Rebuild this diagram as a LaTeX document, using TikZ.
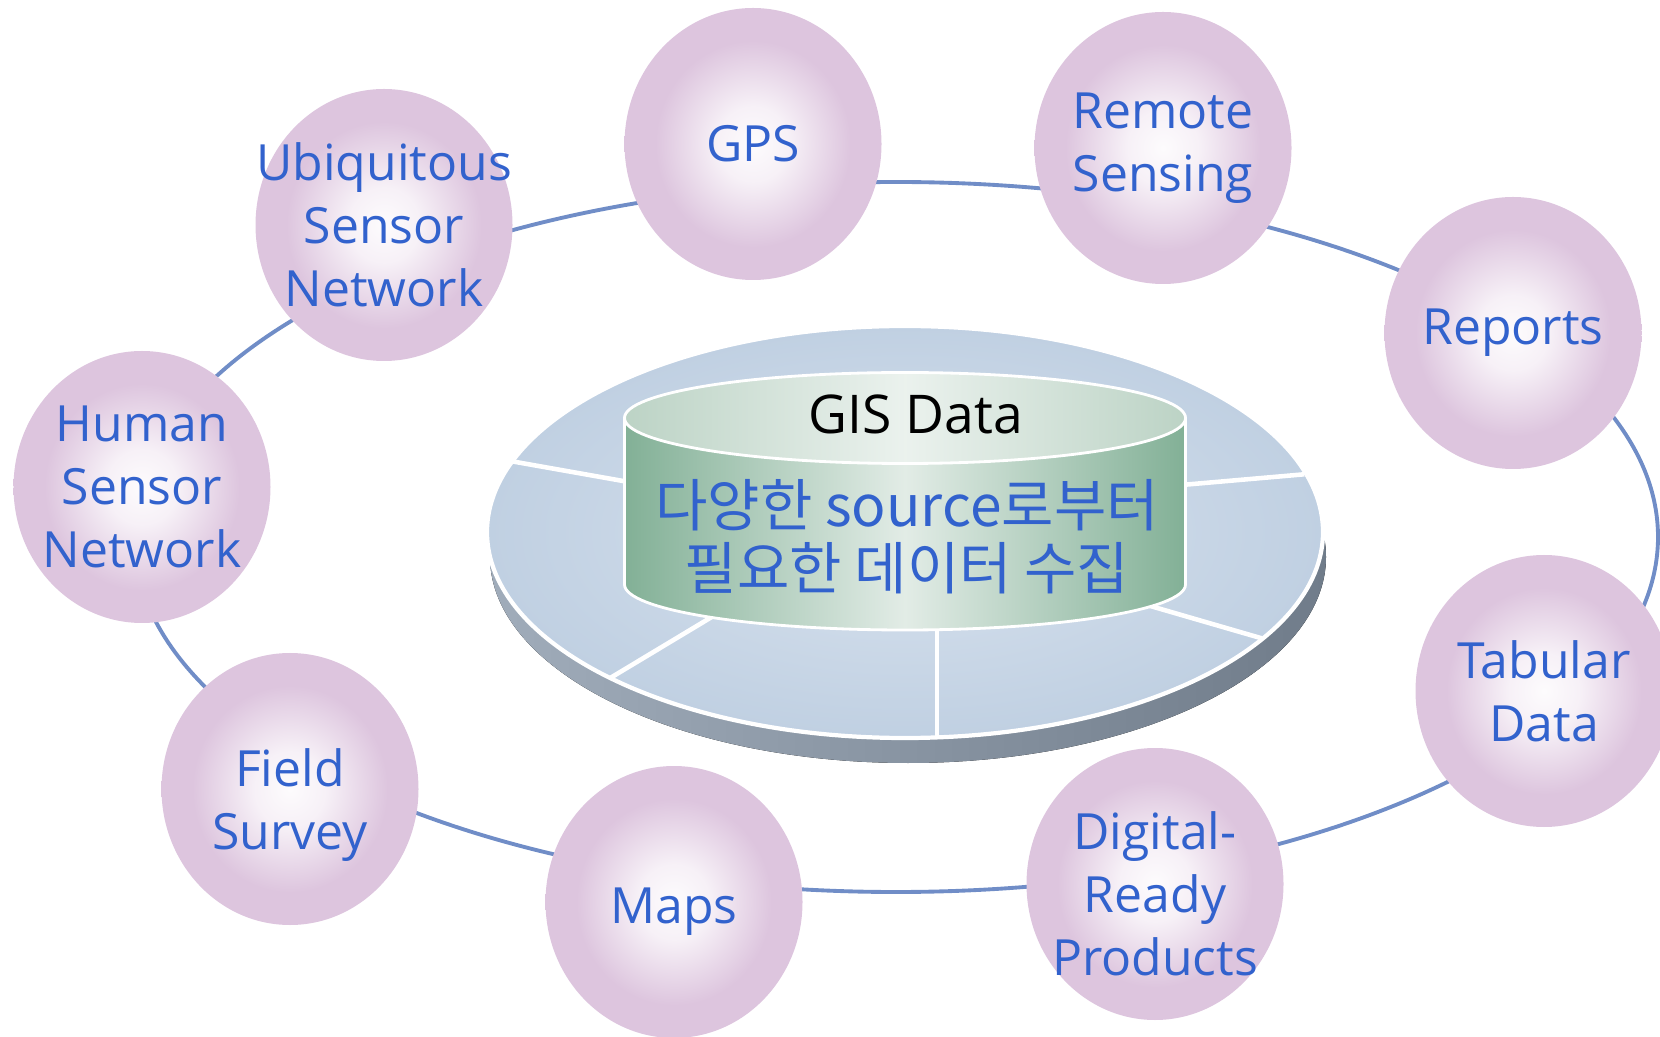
\documentclass[tikz,border=0pt]{standalone}
\usepackage{fontspec}
\setmainfont{Open Sans}
\newfontfamily\krfont{Noto Sans CJK KR}
\usetikzlibrary{shapes.geometric}
\definecolor{bubblepink}{RGB}{221,197,222}
\definecolor{labelblue}{RGB}{50,98,205}
\definecolor{ringblue}{RGB}{112,141,199}
\definecolor{platterblue}{RGB}{192,208,226}
\definecolor{platterlight}{RGB}{216,226,238}
\definecolor{rimgray}{RGB}{160,172,186}
\definecolor{rimdark}{RGB}{112,124,138}
\definecolor{drumgreen}{RGB}{130,176,150}
\definecolor{drumlight}{RGB}{226,236,230}
\definecolor{lidgreen}{RGB}{188,211,197}
\pgfdeclareradialshading{bubbleshade}{\pgfpoint{0bp}{0bp}}{color(0bp)=(bubblepink!6!white); color(7bp)=(bubblepink!25!white); color(19bp)=(bubblepink); color(50bp)=(bubblepink)}

\tikzset{
  source/.style={ellipse, minimum width=2.57cm, minimum height=2.72cm, inner sep=-0.6cm, shading=bubbleshade, text=labelblue, align=center, font=\fontsize{14.2}{18}\selectfont},
  tag/.style={text=labelblue, align=center, font=\fontsize{14.2}{18}\selectfont},
  sector/.style={white, line width=1.3pt},
}

\begin{document}
\begin{tikzpicture}
\useasboundingbox (0,0) rectangle (16.6,10.36);
% orbit behind the sources
\draw[ringblue, line width=1.1pt] (8.96,4.99) ellipse (7.62 and 3.55);

\node[source] (GPS) at (7.53,8.92) {GPS};
\node[source] (RS) at (11.63,8.88) {Remote\\Sensing};
\node[source] (REP) at (15.13,7.03) {Reports};
\node[source] (TAB) at (15.44,3.45) {Tabular\\Data};
\node[source] (DRP) at (11.55,1.52) {};
\node[tag] at ([yshift=-1mm]DRP.center) {Digital-\\Ready\\Products};
\node[source] (MAP) at (6.74,1.34) {};
\node[tag] at ([yshift=-1mm]MAP.center) {Maps};
\node[source] (FS) at (2.90,2.47) {};
\node[tag] at ([yshift=-1.6mm]FS.center) {Field\\Survey};
\node[source] (HSN) at (1.42,5.49) {Human\\Sensor\\Network};
\node[source] (USN) at (3.84,8.11) {Ubiquitous\\Sensor\\Network};

% platter
\fill[left color=rimgray, right color=rimdark] (9.08,4.79) ellipse (4.18 and 2.06);
\draw[white, line width=1.2pt, inner color=platterlight, outer color=platterblue] (9.05,5.04) ellipse (4.18 and 2.06);
\foreach \ax/\ay/\bx/\by in {5.135/5.744/6.4/5.52, 11.7/5.5/13.043/5.617, 7.3/4.3/6.109/3.584, 9.37/4.2/9.37/2.98, 11.4/4.33/12.62/3.976}
  \draw[sector] (\ax,\ay) -- (\bx,\by);

% drum
\draw[white, line width=0.8pt, left color=drumgreen, right color=drumgreen, middle color=drumlight] (6.245,6.18) -- (6.245,4.515) arc[start angle=180, end angle=360, x radius=2.805, y radius=0.455] -- (11.855,6.18) -- cycle;
\draw[white, line width=0.8pt, left color=lidgreen, right color=lidgreen, middle color=drumlight!70!white] (9.05,6.18) ellipse (2.805 and 0.455);

\node (GIS) at (9.16,6.22) {\fontsize{15.2}{18}\selectfont GIS Data};
\node[text=labelblue, align=center, font=\krfont\fontsize{16.2}{18}\selectfont] (KR) at (9.07,4.99) {다양한 source로부터\\필요한 데이터 수집};
\end{tikzpicture}
\end{document}
